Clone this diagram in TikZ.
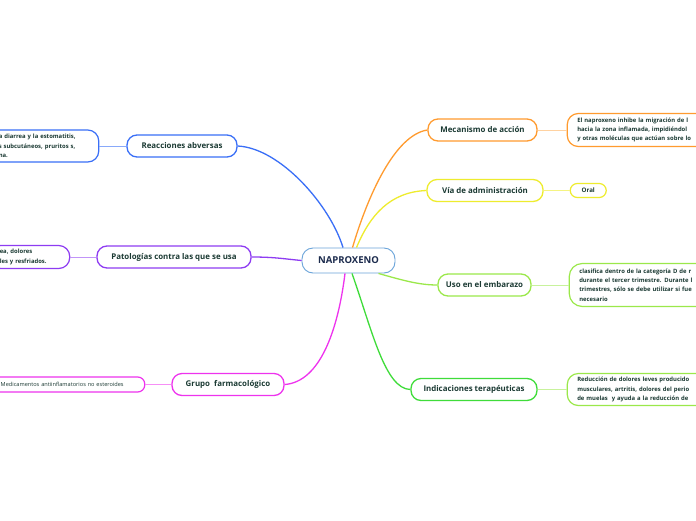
\documentclass[tikz,border=0pt]{standalone}
\usepackage{fontspec}
\setmainfont{Open Sans}
\usepackage{tikz}
\usetikzlibrary{positioning}

\definecolor{rootC}{HTML}{6AA4DA}
\definecolor{rootT}{HTML}{1C2B4D}
\definecolor{labC}{HTML}{1B3A33}
\definecolor{blueC}{HTML}{3A6FF7}
\definecolor{purpleC}{HTML}{8E3CF2}
\definecolor{magentaC}{HTML}{EE33EE}
\definecolor{orangeC}{HTML}{FF9B2F}
\definecolor{yellowC}{HTML}{EEEC2E}
\definecolor{lgreenC}{HTML}{9BE84A}
\definecolor{greenC}{HTML}{3FDC3A}

\begin{document}
\begin{tikzpicture}[
        x=1pt, y=-1pt,
        root/.style={
            rectangle, rounded corners=11pt, draw = rootC, line width=0.9pt, fill=white,
            text = rootT, font = \bfseries\fontsize{9.5}{11}\selectfont,
            minimum width=93pt, minimum height=25pt
        },
        topic/.style={
            rectangle, rounded corners=10pt, line width=1.3pt, fill=white,
            text = labC, font = \bfseries\fontsize{7.9}{9}\selectfont,
            minimum height=22pt, inner xsep=4pt
        },
        leaf/.style={
            rectangle, rounded corners=11pt, line width=1.2pt, fill=white,
            text = labC, font = \bfseries\fontsize{5.9}{9.3}\selectfont,
            align=left, inner xsep=10pt, inner ysep=3pt
        },
        branch/.style={line width=1.3pt},
        twig/.style={line width=1pt},
    ]
        \useasboundingbox[fill=white] (0,0) rectangle (696,520);

        \node (naproxeno) [root] at (348.5,260.5) {NAPROXENO};

        % left side
        \node (reacciones) [topic,draw=blueC,minimum width=110pt] at (182,146) {Reacciones abversas};
        \node (reaccionesTxt) [leaf,draw=blueC,text width=90pt,minimum height=32pt,left=27pt of reacciones] {a diarrea y la estomatitis,\\s subcutáneos, pruritos s,\\na.};
        \path (reacciones) edge[twig,blueC!60!white] (reaccionesTxt);

        \node (patologias) [topic,draw=purpleC,minimum width=154pt] at (174,257) {Patologías contra las que se usa};
        \node (patologiasTxt) [leaf,draw=purpleC,text width=60pt,minimum height=23pt,left=26pt of patologias] {ea, dolores\\les y resfriados.};
        \path (patologias) edge[twig,purpleC!55!white] (patologiasTxt);

        \node (grupo) [topic,draw=magentaC,minimum width=112pt] at (228,384.5) {Grupo\ \ farmacológico};
        \node (grupoTxt) [leaf,draw=magentaC,font=\fontsize{5.6}{9}\selectfont,text width=134pt,minimum height=15pt,inner ysep=1pt,rounded corners=7pt,left=26pt of grupo] {Medicamentos antiinflamatorios no esteroides};
        \path (grupo) edge[twig,magentaC!55!white] (grupoTxt);

        % right side
        \node (mecanismo) [topic,draw=orangeC,minimum width=109pt] at (482.5,130) {Mecanismo de acción};
        \node (mecanismoTxt) [leaf,draw=orangeC,text width=150pt,minimum height=33pt,right=29pt of mecanismo] {El naproxeno inhibe la migración de l\\hacia la zona inflamada, impidiéndol\\y otras moléculas que actúan sobre lo};
        \path (mecanismo) edge[twig,orangeC!45!white] (mecanismoTxt);

        \node (via) [topic,draw=yellowC,minimum width=116pt] at (485,190.5) {Vía de administración};
        \node (oral) [leaf,draw=yellowC,font=\bfseries\fontsize{6.2}{7}\selectfont,minimum width=36pt,minimum height=14pt,inner ysep=1pt,rounded corners=7pt,right=26pt of via] {Oral};
        \path (via) edge[twig,yellowC!60!white] (oral);

        \node (embarazo) [topic,draw=lgreenC,minimum width=93pt] at (484.5,285) {Uso en el embarazo};
        \node (embarazoTxt) [leaf,draw=lgreenC,text width=150pt,minimum height=43pt,rounded corners=13pt,right=37pt of embarazo] {clasifica dentro de la categoría D de r\\durante el tercer trimestre. Durante l\\trimestres, sólo se debe utilizar si fue\\necesario};
        \path (embarazo) edge[twig,lgreenC!55!white] (embarazoTxt);

        \node (indicaciones) [topic,draw=greenC,minimum width=126pt] at (474,389.5) {Indicaciones terapéuticas};
        \node (indicacionesTxt) [leaf,draw=lgreenC,text width=150pt,minimum height=32pt,right=29pt of indicaciones] {Reducción de dolores leves producido\\musculares, artritis, dolores del perio\\de muelas\ \ y ayuda a la reducción de};
        \path (indicaciones) edge[twig,lgreenC!55!white] (indicacionesTxt);

        % branches from the centre
        \draw[branch,blueC] ([xshift=-5.5pt]naproxeno.north) .. controls (330,205) and (280,148) .. (reacciones.east);
        \draw[branch,orangeC] ([xshift=4pt]naproxeno.north) .. controls (368,195) and (395,135) .. (mecanismo.west);
        \draw[branch,yellowC] ([xshift=8pt]naproxeno.north) .. controls (370,215) and (390,192) .. (via.west);
        \draw[branch,purpleC] (patologias.east) .. controls (275,257) and (285,259) .. (naproxeno.west);
        \draw[branch,magentaC] ([xshift=-3.5pt]naproxeno.south) .. controls (338,330) and (320,382) .. (grupo.east);
        \draw[branch,greenC] ([xshift=3.5pt]naproxeno.south) .. controls (372,330) and (385,389) .. (indicaciones.west);
        \draw[branch,lgreenC] ([xshift=30pt]naproxeno.south) .. controls (405,281) and (420,285) .. (embarazo.west);

    \end{tikzpicture}
\end{document}
